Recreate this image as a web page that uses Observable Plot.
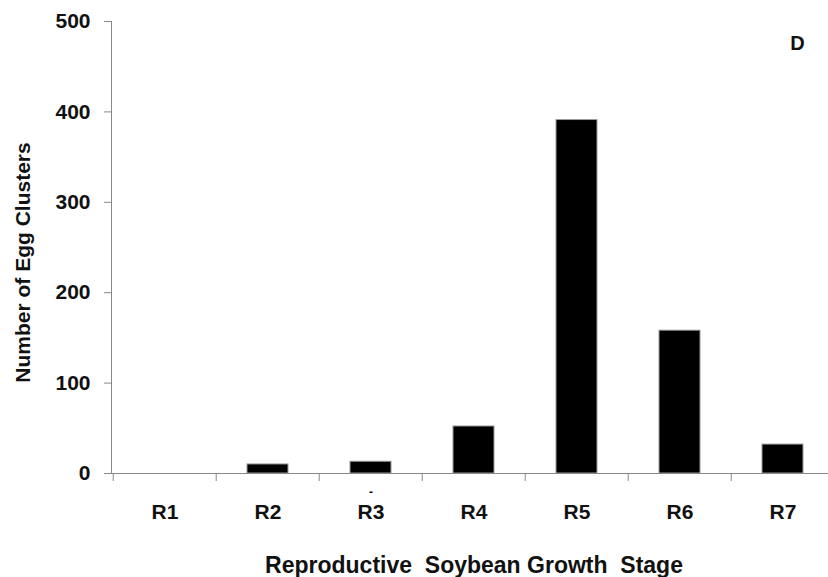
<!DOCTYPE html>
<html><head><meta charset="utf-8">
<script src="https://cdn.jsdelivr.net/npm/d3@7"></script>
<script src="https://cdn.jsdelivr.net/npm/@observablehq/plot@0.6"></script>
<style>html,body{margin:0;padding:0;background:#fff;overflow:hidden}</style>
</head><body><div id="chart"></div>
<script>
const stages = ["R1", "R2", "R3", "R4", "R5", "R6", "R7"];
const eggClusters = [0, 10, 13, 52, 391, 158, 32];
const yTicks = [0, 100, 200, 300, 400, 500];
const yTitle = "Number of Egg Clusters";
const xTitle = "Reproductive\u00a0\u00a0Soybean Growth\u00a0\u00a0Stage";
const panelLetter = "D";

const data = stages.map((s, i) => ({stage: s, value: eggClusters[i]}));
const font = "'Liberation Sans', Arial, sans-serif";
const x0 = 111, x1 = 836;
const step = (x1 - x0) / stages.length;

const chart = Plot.plot({
  width: 828, height: 577,
  marginLeft: x0, marginRight: 828 - x1, marginTop: 21, marginBottom: 104,
  style: {fontFamily: font, fontWeight: "bold", color: "#111", background: "#fff", overflow: "hidden"},
  x: {domain: stages, range: [x0, x1], paddingInner: 0.6, paddingOuter: 0.3, axis: null},
  y: {domain: [0, 500], range: [473, 21], axis: null},
  marks: [
    Plot.barY(data, {x: "stage", y: "value", fill: "#000", stroke: "#9a9a9a", strokeWidth: 1}),
    Plot.frame({anchor: "left", stroke: "#888"}),
    Plot.frame({anchor: "bottom", stroke: "#888"}),
    Plot.axisY({ticks: yTicks, tickSize: 7, tickPadding: 14, stroke: "#888", color: "#111", fontSize: 21, label: null}),
    Plot.axisX({tickSize: 8, tickFormat: () => "", dx: -step / 2, stroke: "#888", label: null}),
    Plot.text(stages, {x: d => d, frameAnchor: "bottom", dy: 39, lineAnchor: "middle", fontSize: 21, fill: "#111"}),
    Plot.text(["R3"], {x: d => d, text: () => "-", frameAnchor: "bottom", dy: 19, lineAnchor: "middle", fontSize: 12, fill: "#111"}),
    Plot.text([yTitle], {frameAnchor: "left", dx: -88, dy: 15, rotate: -90, textAnchor: "middle", lineAnchor: "middle", fontSize: 21, fill: "#111"}),
    Plot.text([xTitle], {frameAnchor: "bottom", dy: 92, textAnchor: "middle", lineAnchor: "middle", fontSize: 23, fill: "#111"}),
    Plot.text([panelLetter], {frameAnchor: "top-right", dx: -39, dy: 22, textAnchor: "middle", lineAnchor: "middle", fontSize: 20, fill: "#111"})
  ]
});
document.getElementById("chart").appendChild(chart);
</script>
</body></html>
